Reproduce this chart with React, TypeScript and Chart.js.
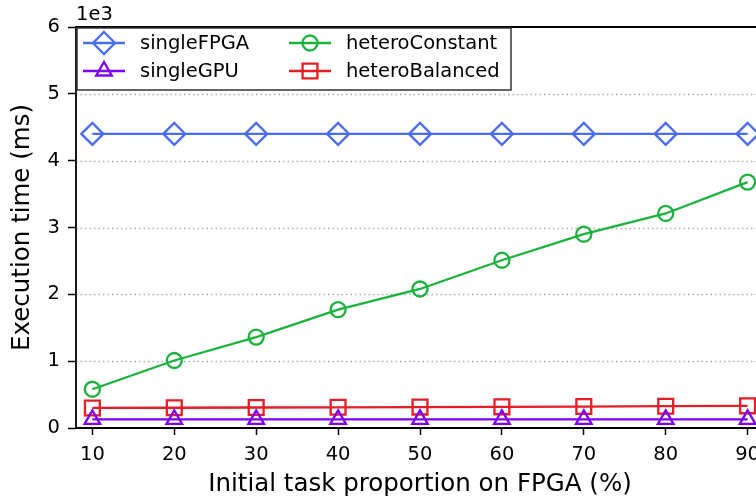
import React, { useEffect, useRef } from 'react';
import { Chart, registerables } from 'chart.js';

Chart.register(...registerables);

// ---- data ----
const proportions = [10, 20, 30, 40, 50, 60, 70, 80, 90];
const singleFPGA = [4400, 4400, 4400, 4400, 4400, 4400, 4400, 4400, 4400];
const singleGPU = [130, 130, 130, 130, 130, 130, 130, 130, 130];
const heteroConstant = [580, 1010, 1360, 1770, 2080, 2510, 2900, 3210, 3680];
const heteroBalanced = [300, 303, 307, 310, 313, 317, 321, 326, 332];
const yTickValues = [0, 1000, 2000, 3000, 4000, 5000, 6000];
const yTickLabels = ['0', '1', '2', '3', '4', '5', '6'];
const xTickLabels = ['10', '20', '30', '40', '50', '60', '70', '80', '90'];
const yScaleLabel = '1e3';
const xTitle = 'Initial task proportion on FPGA (%)';
const yTitle = 'Execution time (ms)';

const FONT = "'DejaVu Sans', sans-serif";
const TICK_SIZE = 19.5;
const TITLE_SIZE = 24.5;
const LINE_W = 2.3;

const series = [
  { label: 'singleFPGA', data: singleFPGA, color: '#4a6cf0', style: 'rectRot', radius: 11 },
  { label: 'singleGPU', data: singleGPU, color: '#8000f0', style: 'triangle', radius: 9 },
  { label: 'heteroConstant', data: heteroConstant, color: '#19b33c', style: 'circle', radius: 7.5 },
  { label: 'heteroBalanced', data: heteroBalanced, color: '#e81c24', style: 'rect', radius: 10.5 },
];

function drawMarker(ctx: CanvasRenderingContext2D, style: string, x: number, y: number, r: number) {
  ctx.beginPath();
  if (style === 'circle') {
    ctx.arc(x, y, r, 0, Math.PI * 2);
  } else if (style === 'rect') {
    const s = Math.SQRT1_2 * r;
    ctx.rect(x - s, y - s, 2 * s, 2 * s);
  } else if (style === 'rectRot') {
    ctx.moveTo(x, y - r);
    ctx.lineTo(x + r, y);
    ctx.lineTo(x, y + r);
    ctx.lineTo(x - r, y);
    ctx.closePath();
  } else if (style === 'triangle') {
    let rad = 0;
    ctx.moveTo(x + Math.sin(rad) * r, y - Math.cos(rad) * r);
    rad += (2 * Math.PI) / 3;
    ctx.lineTo(x + Math.sin(rad) * r, y - Math.cos(rad) * r);
    rad += (2 * Math.PI) / 3;
    ctx.lineTo(x + Math.sin(rad) * r, y - Math.cos(rad) * r);
    ctx.closePath();
  }
  ctx.stroke();
}

const decorPlugin = {
  id: 'decor',
  beforeDatasetsDraw(chart: any) {
    const { ctx, chartArea } = chart;
    const ys = chart.scales.y;
    ctx.save();
    ctx.strokeStyle = '#b0b0b0';
    ctx.lineWidth = 1.3;
    ctx.setLineDash([1.5, 3]);
    yTickValues.forEach((v) => {
      if (v === yTickValues[0] || v === yTickValues[yTickValues.length - 1]) return;
      const py = Math.round(ys.getPixelForValue(v)) + 0.5;
      ctx.beginPath();
      ctx.moveTo(chartArea.left, py);
      ctx.lineTo(chartArea.right, py);
      ctx.stroke();
    });
    ctx.restore();
  },
  afterDraw(chart: any) {
    const { ctx, chartArea } = chart;
    const { left, right, top, bottom } = chartArea;
    ctx.save();
    // spines
    ctx.strokeStyle = '#000';
    ctx.lineWidth = 1.8;
    ctx.setLineDash([]);
    ctx.beginPath();
    ctx.rect(left, top, right - left, bottom - top);
    ctx.stroke();
    // offset label
    ctx.fillStyle = '#000';
    ctx.font = `${TICK_SIZE}px ${FONT}`;
    ctx.textAlign = 'left';
    ctx.textBaseline = 'alphabetic';
    ctx.fillText(yScaleLabel, left, top - 7);

    // legend
    const bx = left + 1, by = top + 1, bw = 434, bh = 62;
    ctx.fillStyle = 'rgba(255,255,255,0.85)';
    ctx.fillRect(bx, by, bw, bh);
    ctx.strokeStyle = '#333';
    ctx.lineWidth = 1.5;
    ctx.strokeRect(bx, by, bw, bh);
    const cols = [bx + 6, bx + 212];
    const rows = [by + 15, by + 43];
    series.forEach((s, i) => {
      const cx = cols[Math.floor(i / 2)];
      const cy = rows[i % 2];
      ctx.strokeStyle = s.color;
      ctx.lineWidth = LINE_W;
      ctx.beginPath();
      ctx.moveTo(cx, cy);
      ctx.lineTo(cx + 42, cy);
      ctx.stroke();
      drawMarker(ctx, s.style, cx + 21, cy, s.radius);
      ctx.fillStyle = '#000';
      ctx.font = `${TICK_SIZE}px ${FONT}`;
      ctx.textAlign = 'left';
      ctx.textBaseline = 'middle';
      ctx.fillText(s.label, cx + 57, cy + 1);
    });
    ctx.restore();
  },
};

export default function App() {
  const ref = useRef<HTMLCanvasElement | null>(null);
  useEffect(() => {
    if (!ref.current) return;
    const chart = new Chart(ref.current, {
      type: 'line',
      data: {
        datasets: series.map((s) => ({
          label: s.label,
          data: s.data.map((v, i) => ({ x: proportions[i], y: v })),
          borderColor: s.color,
          backgroundColor: 'transparent',
          borderWidth: LINE_W,
          pointStyle: s.style as any,
          pointRadius: s.radius,
          pointBorderWidth: LINE_W,
          pointBorderColor: s.color,
          pointBackgroundColor: 'transparent',
          tension: 0,
          clip: false as any,
        })),
      },
      options: {
        animation: false,
        responsive: false,
        devicePixelRatio: 1,
        layout: { padding: { top: 27, right: 16, left: 0, bottom: 0 } },
        plugins: { legend: { display: false }, tooltip: { enabled: false } },
        scales: {
          x: {
            type: 'linear',
            min: 8,
            max: 92,
            afterBuildTicks: (s: any) => {
              s.ticks = proportions.map((v) => ({ value: v }));
            },
            afterFit: (s: any) => {
              s.height = 76;
            },
            ticks: {
              color: '#000',
              font: { family: FONT, size: TICK_SIZE },
              padding: 8,
              maxRotation: 0,
              autoSkip: false,
              callback: (v: any) => xTickLabels[proportions.indexOf(Number(v))] ?? '',
            },
            grid: { drawOnChartArea: false, drawTicks: true, tickLength: 7, tickColor: '#000', tickWidth: 1.5 },
            border: { display: false },
            title: {
              display: true,
              text: xTitle,
              color: '#000',
              font: { family: FONT, size: TITLE_SIZE },
              padding: { top: 0, bottom: 5 },
            },
          },
          y: {
            min: 0,
            max: 6000,
            afterBuildTicks: (s: any) => {
              s.ticks = yTickValues.map((v) => ({ value: v }));
            },
            afterFit: (s: any) => {
              s.width = 76;
            },
            ticks: {
              color: '#000',
              font: { family: FONT, size: TICK_SIZE },
              padding: 8,
              callback: (v: any) => yTickLabels[yTickValues.indexOf(Number(v))] ?? '',
            },
            grid: { drawOnChartArea: false, drawTicks: true, tickLength: 8, tickColor: '#000', tickWidth: 1.5 },
            border: { display: false },
            title: {
              display: true,
              text: yTitle,
              color: '#000',
              font: { family: FONT, size: TITLE_SIZE },
              padding: { top: 8, bottom: 0 },
            },
          },
        },
      },
      plugins: [decorPlugin],
    });
    return () => chart.destroy();
  }, []);

  return (
    <div style={{ position: 'fixed', left: 0, top: 0, width: 756, height: 504, overflow: 'hidden', background: '#fff' }}>
      <canvas ref={ref} width={780} height={504} style={{ width: 780, height: 504, display: 'block' }} />
    </div>
  );
}
